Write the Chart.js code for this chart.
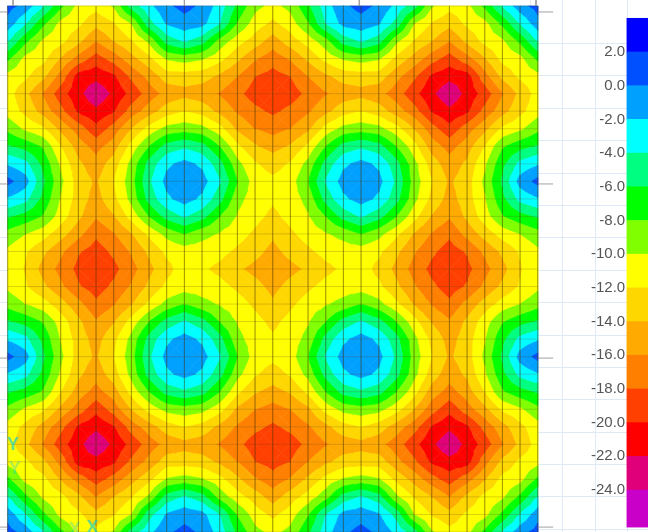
<!DOCTYPE html>
<html>
<head>
<meta charset="utf-8">
<style>
html, body { margin: 0; padding: 0; background: #fff; }
#wrap { width: 648px; height: 532px; overflow: hidden; }
canvas { filter: blur(0.7px); }
</style>
<script src="https://cdn.jsdelivr.net/npm/chart.js@4"></script>
</head>
<body>
<div id="wrap"><canvas id="myChart" width="648" height="532"></canvas></div>
<script>
// valores de la malla (31 x 31 nudos)
const malla = [
[.8,-.8,-3.9,-7.6,-10.7,-11.4,-9.8,-5.2,-2.6,-.4,.6,-.4,-3,-6.5,-9.4,-10.6,-9.4,-6.5,-3,-.4,.6,-.4,-2.6,-5.2,-9.8,-11.4,-10.7,-7.6,-3.9,-.8,.8],
[-.8,-3.9,-7.6,-10.7,-11.6,-13.4,-12.2,-10,-4.8,-1.8,-.8,-1.4,-4,-8.2,-11,-12.5,-11,-8.2,-4,-1.4,-.8,-1.8,-4.8,-10,-12.2,-13.4,-11.6,-10.7,-7.6,-3.9,-.8],
[-3.9,-7.6,-10.4,-11.4,-13.5,-16,-14,-12.2,-9.6,-5.2,-3.8,-5.2,-8.8,-11.2,-13,-15,-13,-11.2,-8.8,-5.2,-3.8,-5.2,-9.6,-12.2,-14,-16,-13.5,-11.4,-10.4,-7.6,-3.9],
[-7.6,-10.7,-11.4,-14.2,-16.8,-19,-17.2,-14.8,-12.6,-9.8,-9.2,-9.8,-11.4,-13.6,-15.8,-17.2,-15.8,-13.6,-11.4,-9.8,-9.2,-9.8,-12.6,-14.8,-17.2,-19,-16.8,-14.2,-11.4,-10.7,-7.6],
[-10.7,-11.6,-13.5,-16.8,-21,-21.4,-20.4,-17.6,-15.4,-13,-13,-13.2,-14.4,-16,-18,-18.8,-18,-16,-14.4,-13.2,-13,-13,-15.4,-17.6,-20.4,-21.4,-21,-16.8,-13.5,-11.6,-10.7],
[-11.2,-13.5,-16.2,-19.2,-21.4,-23.6,-21.6,-19.4,-17.1,-15.4,-14.7,-15.2,-16.2,-17.5,-19,-19.6,-19,-17.5,-16.2,-15.2,-14.7,-15.4,-17.1,-19.4,-21.6,-23.6,-21.4,-19.2,-16.2,-13.5,-11.2],
[-10.8,-12.6,-14.8,-17.4,-20.4,-21.6,-20.2,-17.2,-15,-13,-12,-12.8,-14.6,-16.3,-17.5,-18.4,-17.5,-16.3,-14.6,-12.8,-12,-13,-15,-17.2,-20.2,-21.6,-20.4,-17.4,-14.8,-12.6,-10.8],
[-8.6,-10.4,-11.7,-14.6,-17,-19.4,-17.2,-14,-11.3,-9.4,-8.9,-9.4,-11.3,-14.5,-16,-16.8,-16,-14.5,-11.3,-9.4,-8.9,-9.4,-11.3,-14,-17.2,-19.4,-17,-14.6,-11.7,-10.4,-8.6],
[-5.8,-6.8,-8.3,-12,-15,-16.8,-15,-11.3,-8,-5.3,-4.4,-5.3,-8,-11.6,-13.8,-14.8,-13.8,-11.6,-8,-5.3,-4.4,-5.3,-8,-11.3,-15,-16.8,-15,-12,-8.3,-6.8,-5.8],
[-2.2,-3.4,-6.6,-10.4,-13.6,-15.2,-13,-9.4,-5.3,-2.4,-1.4,-2.4,-5.3,-9.4,-11.8,-12.8,-11.8,-9.4,-5.3,-2.4,-1.4,-2.4,-5.3,-9.4,-13,-15.2,-13.6,-10.4,-6.6,-3.4,-2.2],
[.6,-1.2,-5.7,-9.6,-13,-14.3,-12,-8.9,-4.4,-1.4,-.4,-1.2,-3.8,-8,-11,-11.6,-11,-8,-3.8,-1.2,-.4,-1.4,-4.4,-8.9,-12,-14.3,-13,-9.6,-5.7,-1.2,.6],
[-2.2,-3.4,-6.6,-10.2,-13,-14.8,-12.6,-9.4,-5.3,-2.4,-1.2,-2.4,-5.3,-9.4,-11,-11.7,-11,-9.4,-5.3,-2.4,-1.2,-2.4,-5.3,-9.4,-12.6,-14.8,-13,-10.2,-6.6,-3.4,-2.2],
[-5.8,-6.8,-8.2,-11,-13.6,-15.8,-14.2,-11.3,-8,-5.3,-3.8,-5.3,-8,-10.2,-11.4,-12.5,-11.4,-10.2,-8,-5.3,-3.8,-5.3,-8,-11.3,-14.2,-15.8,-13.6,-11,-8.2,-6.8,-5.8],
[-8.8,-10,-11.2,-13.2,-15.4,-17.6,-16.2,-14.2,-11.6,-9.4,-8,-9.4,-10.2,-11.2,-12.4,-13.7,-12.4,-11.2,-10.2,-9.4,-8,-9.4,-11.6,-14.2,-16.2,-17.6,-15.4,-13.2,-11.2,-10,-8.8],
[-10.4,-11.8,-13.6,-15.6,-17.8,-19,-17.6,-15.8,-13.6,-11.6,-11,-11,-11.4,-12.4,-13.4,-14.6,-13.4,-12.4,-11.4,-11,-11,-11.6,-13.6,-15.8,-17.6,-19,-17.8,-15.6,-13.6,-11.8,-10.4],
[-10.6,-12.2,-14.7,-16.7,-18.6,-19.6,-18.6,-16.8,-14.6,-12.6,-11.1,-11.7,-12.5,-13.7,-14.6,-15.4,-14.6,-13.7,-12.5,-11.7,-11.1,-12.6,-14.6,-16.8,-18.6,-19.6,-18.6,-16.7,-14.7,-12.2,-10.6],
[-10.4,-11.8,-13.6,-15.6,-17.8,-19,-17.6,-15.8,-13.6,-11.6,-11,-11,-11.4,-12.4,-13.4,-14.6,-13.4,-12.4,-11.4,-11,-11,-11.6,-13.6,-15.8,-17.6,-19,-17.8,-15.6,-13.6,-11.8,-10.4],
[-8.8,-10,-11.2,-13.2,-15.4,-17.6,-16.2,-14.2,-11.6,-9.4,-8,-9.4,-10.2,-11.2,-12.4,-13.7,-12.4,-11.2,-10.2,-9.4,-8,-9.4,-11.6,-14.2,-16.2,-17.6,-15.4,-13.2,-11.2,-10,-8.8],
[-5.8,-6.8,-8.2,-11,-13.6,-15.8,-14.2,-11.3,-8,-5.3,-3.8,-5.3,-8,-10.2,-11.4,-12.5,-11.4,-10.2,-8,-5.3,-3.8,-5.3,-8,-11.3,-14.2,-15.8,-13.6,-11,-8.2,-6.8,-5.8],
[-2.2,-3.4,-6.6,-10.2,-13,-14.8,-12.6,-9.4,-5.3,-2.4,-1.2,-2.4,-5.3,-9.4,-11,-11.7,-11,-9.4,-5.3,-2.4,-1.2,-2.4,-5.3,-9.4,-12.6,-14.8,-13,-10.2,-6.6,-3.4,-2.2],
[.6,-1.2,-5.7,-9.6,-13,-14.3,-12,-8.9,-4.4,-1.4,-.4,-1.2,-3.8,-8,-11,-11.6,-11,-8,-3.8,-1.2,-.4,-1.4,-4.4,-8.9,-12,-14.3,-13,-9.6,-5.7,-1.2,.6],
[-2.2,-3.4,-6.6,-10.4,-13.6,-15.2,-13,-9.4,-5.3,-2.4,-1.4,-2.4,-5.3,-9.4,-11.8,-12.8,-11.8,-9.4,-5.3,-2.4,-1.4,-2.4,-5.3,-9.4,-13,-15.2,-13.6,-10.4,-6.6,-3.4,-2.2],
[-5.8,-6.8,-8.3,-12,-15,-16.8,-15,-11.3,-8,-5.3,-4.4,-5.3,-8,-11.6,-13.8,-14.8,-13.8,-11.6,-8,-5.3,-4.4,-5.3,-8,-11.3,-15,-16.8,-15,-12,-8.3,-6.8,-5.8],
[-8.6,-10.4,-11.7,-14.6,-17,-19.4,-17.2,-14,-11.3,-9.4,-8.9,-9.4,-11.3,-14.5,-16,-16.8,-16,-14.5,-11.3,-9.4,-8.9,-9.4,-11.3,-14,-17.2,-19.4,-17,-14.6,-11.7,-10.4,-8.6],
[-10.8,-12.6,-14.8,-17.4,-20.4,-21.6,-20.2,-17.2,-15,-13,-12,-12.8,-14.6,-16.3,-17.5,-18.4,-17.5,-16.3,-14.6,-12.8,-12,-13,-15,-17.2,-20.2,-21.6,-20.4,-17.4,-14.8,-12.6,-10.8],
[-11.2,-13.5,-16.2,-19.2,-21.4,-23.6,-21.6,-19.4,-17.1,-15.4,-14.7,-15.2,-16.2,-17.5,-19,-19.6,-19,-17.5,-16.2,-15.2,-14.7,-15.4,-17.1,-19.4,-21.6,-23.6,-21.4,-19.2,-16.2,-13.5,-11.2],
[-10.7,-11.6,-13.5,-16.8,-21,-21.4,-20.4,-17.6,-15.4,-13,-13,-13.2,-14.4,-16,-18,-18.8,-18,-16,-14.4,-13.2,-13,-13,-15.4,-17.6,-20.4,-21.4,-21,-16.8,-13.5,-11.6,-10.7],
[-7.6,-10.7,-11.4,-14.2,-16.8,-19,-17.2,-14.8,-12.6,-9.8,-9.2,-9.8,-11.4,-13.6,-15.8,-17.2,-15.8,-13.6,-11.4,-9.8,-9.2,-9.8,-12.6,-14.8,-17.2,-19,-16.8,-14.2,-11.4,-10.7,-7.6],
[-3.9,-7.6,-10.4,-11.4,-13.5,-16,-14,-12.2,-9.6,-5.2,-3.8,-5.2,-8.8,-11.2,-13,-15,-13,-11.2,-8.8,-5.2,-3.8,-5.2,-9.6,-12.2,-14,-16,-13.5,-11.4,-10.4,-7.6,-3.9],
[-.8,-3.9,-7.6,-10.7,-11.6,-13.4,-12.2,-10,-4.8,-1.8,-.8,-1.4,-4,-8.2,-11,-12.5,-11,-8.2,-4,-1.4,-.8,-1.8,-4.8,-10,-12.2,-13.4,-11.6,-10.7,-7.6,-3.9,-.8],
[.8,-.8,-3.9,-7.6,-10.7,-11.4,-9.8,-5.2,-2.6,-.4,.6,-.4,-3,-6.5,-9.4,-10.6,-9.4,-6.5,-3,-.4,.6,-.4,-2.6,-5.2,-9.8,-11.4,-10.7,-7.6,-3.9,-.8,.8]
];

// limites de cada banda de la barra de colores, de arriba a abajo
const limites = [4, 2, 0, -2, -4, -6, -8, -10, -12, -14, -16, -18, -20, -22, -24, -26.2];
const coloresBanda = ['#0000ff', '#0050ff', '#00a0ff', '#00ffff', '#00ff80', '#00ff00', '#80ff00', '#ffff00', '#ffd700', '#ffaa00', '#ff8000', '#ff4000', '#ff0000', '#e0007a', '#c800c8'];
const etiquetas = [2, 0, -2, -4, -6, -8, -10, -12, -14, -16, -18, -20, -22, -24];

// lineas del papel de fondo y marcas de la estructura, en unidades de malla
const papelX = [29.6, 31.42, 33.26, 35.09];
const papelY = [2.14, 3.99, 5.82, 7.68, 9.53, 11.38, 13.2, 15.07, 16.9, 18.77, 20.6, 22.46, 24.3, 26.15, 28, 29.85];
const marcasY = [.34, 10.15, 20.08, 29.72];
const marcasX = [.3, 10, 19.9, 29.9];

// recorta un poligono {x,y,z} contra z >= nivel (signo 1) o z <= nivel (signo -1)
function recortar(poli, nivel, signo) {
    let salida = [];
    for (let i = 0; i < poli.length; i++) {
        let a = poli[i];
        let b = poli[(i + 1) % poli.length];
        let dentroA = (a.z - nivel) * signo >= 0;
        let dentroB = (b.z - nivel) * signo >= 0;
        if (dentroA) salida.push(a);
        if (dentroA !== dentroB) {
            let t = (nivel - a.z) / (b.z - a.z);
            salida.push({ x: a.x + (b.x - a.x) * t, y: a.y + (b.y - a.y) * t, z: nivel });
        }
    }
    return salida;
}

// datasets de las bandas: cada celda se parte en 4 triangulos desde su centro
let datasets = [];
for (let fila = 0; fila < malla.length - 1; fila++) {
    for (let col = 0; col < malla[fila].length - 1; col++) {
        let esquinas = [
            { x: col, y: fila, z: malla[fila][col] },
            { x: col + 1, y: fila, z: malla[fila][col + 1] },
            { x: col + 1, y: fila + 1, z: malla[fila + 1][col + 1] },
            { x: col, y: fila + 1, z: malla[fila + 1][col] }
        ];
        let centro = {
            x: col + 0.5,
            y: fila + 0.5,
            z: (esquinas[0].z + esquinas[1].z + esquinas[2].z + esquinas[3].z) / 4
        };
        for (let k = 0; k < 4; k++) {
            let triangulo = [esquinas[k], esquinas[(k + 1) % 4], centro];
            coloresBanda.forEach((color, b) => {
                let poli = recortar(recortar(triangulo, limites[b], -1), limites[b + 1], 1);
                if (poli.length < 3) return;
                datasets.push({
                    type: 'scatter',
                    showLine: true,
                    data: poli.concat([poli[0]]).map(p => ({ x: p.x, y: p.y })),
                    backgroundColor: color,
                    borderColor: color,
                    borderWidth: 0.7,
                    pointRadius: 0,
                    fill: 'shape',
                    order: 3
                });
            });
        }
    }
}

// lineas de la malla por encima de las bandas
const lineaFina = (puntos, color, ancho) => ({
    type: 'scatter',
    showLine: true,
    data: puntos,
    borderColor: color,
    borderWidth: ancho,
    pointRadius: 0,
    fill: false,
    order: 1
});
for (let i = 0; i <= 30; i++) {
    datasets.push(lineaFina([{ x: i, y: 0 }, { x: i, y: 30 }], 'rgba(70,50,0,0.27)', 0.8));
    datasets.push(lineaFina([{ x: 0, y: i }, { x: 30, y: i }], 'rgba(70,50,0,0.27)', 0.8));
}
marcasY.forEach(y => {
    datasets.push(lineaFina([{ x: 30, y: y }, { x: 30.87, y: y }], '#a0a0a0', 1));
    datasets.push(lineaFina([{ x: -0.44, y: y }, { x: 0, y: y }], '#a0a0a0', 1));
});
marcasX.forEach(x => {
    datasets.push(lineaFina([{ x: x, y: -0.34 }, { x: x, y: 0 }], '#a0a0a0', 1));
});

// barra de colores
datasets.push({
    type: 'bar',
    xAxisID: 'x',
    yAxisID: 'yBarra',
    parsing: { xAxisKey: 'x', yAxisKey: 'y' },
    data: coloresBanda.map((c, b) => ({ x: 35.64, y: [limites[b + 1], limites[b]] })),
    backgroundColor: coloresBanda,
    barThickness: 21,
    borderWidth: 0,
    order: 2
});

// letras de los ejes locales
const ejes = {
    id: 'ejes',
    afterDraw(chart) {
        const { ctx, scales } = chart;
        ctx.save();
        ctx.font = 'bold 18px "Liberation Sans"';
        ctx.textAlign = 'center';
        ctx.textBaseline = 'middle';
        ctx.fillStyle = 'rgba(0,200,225,0.6)';
        ctx.fillText('Y', scales.x.getPixelForValue(0.3), scales.y.getPixelForValue(25.05));
        ctx.fillText('X', scales.x.getPixelForValue(4.8), scales.y.getPixelForValue(29.8));
        ctx.fillStyle = 'rgba(0,200,225,0.3)';
        ctx.fillText('Y', scales.x.getPixelForValue(0.4), scales.y.getPixelForValue(26.4));
        ctx.fillText('X', scales.x.getPixelForValue(3.8), scales.y.getPixelForValue(29.9));
        ctx.restore();
    }
};

Chart.defaults.font.family = '"Liberation Sans"';

new Chart(document.getElementById('myChart'), {
    type: 'scatter',
    data: { datasets },
    plugins: [ejes],
    options: {
        responsive: false,
        animation: false,
        parsing: false,
        normalized: true,
        events: [],
        layout: { padding: 0 },
        plugins: { legend: { display: false }, tooltip: { enabled: false } },
        scales: {
            x: {
                type: 'linear', min: -0.436, max: 36.24,
                offset: false,
                border: { display: false },
                grid: { color: '#dfeaf6', drawTicks: false, offset: false },
                ticks: { display: false },
                afterBuildTicks: s => { s.ticks = papelX.map(v => ({ value: v })); }
            },
            y: {
                type: 'linear', min: -0.342, max: 30, reverse: true,
                border: { display: false },
                grid: { color: '#dfeaf6', drawTicks: false },
                ticks: { display: false },
                afterBuildTicks: s => { s.ticks = papelY.map(v => ({ value: v })); }
            },
            yBarra: {
                type: 'linear', min: -26.49, max: 5.086,
                position: { x: 34.95 },
                border: { display: false },
                grid: { display: false },
                ticks: {
                    color: '#555',
                    font: { size: 15 },
                    padding: 0,
                    callback: v => v.toFixed(1)
                },
                afterBuildTicks: s => { s.ticks = etiquetas.map(v => ({ value: v })); },
                afterFit: s => { s.paddingTop = 0; s.paddingBottom = 0; }
            }
        }
    }
});
</script>
</body>
</html>
